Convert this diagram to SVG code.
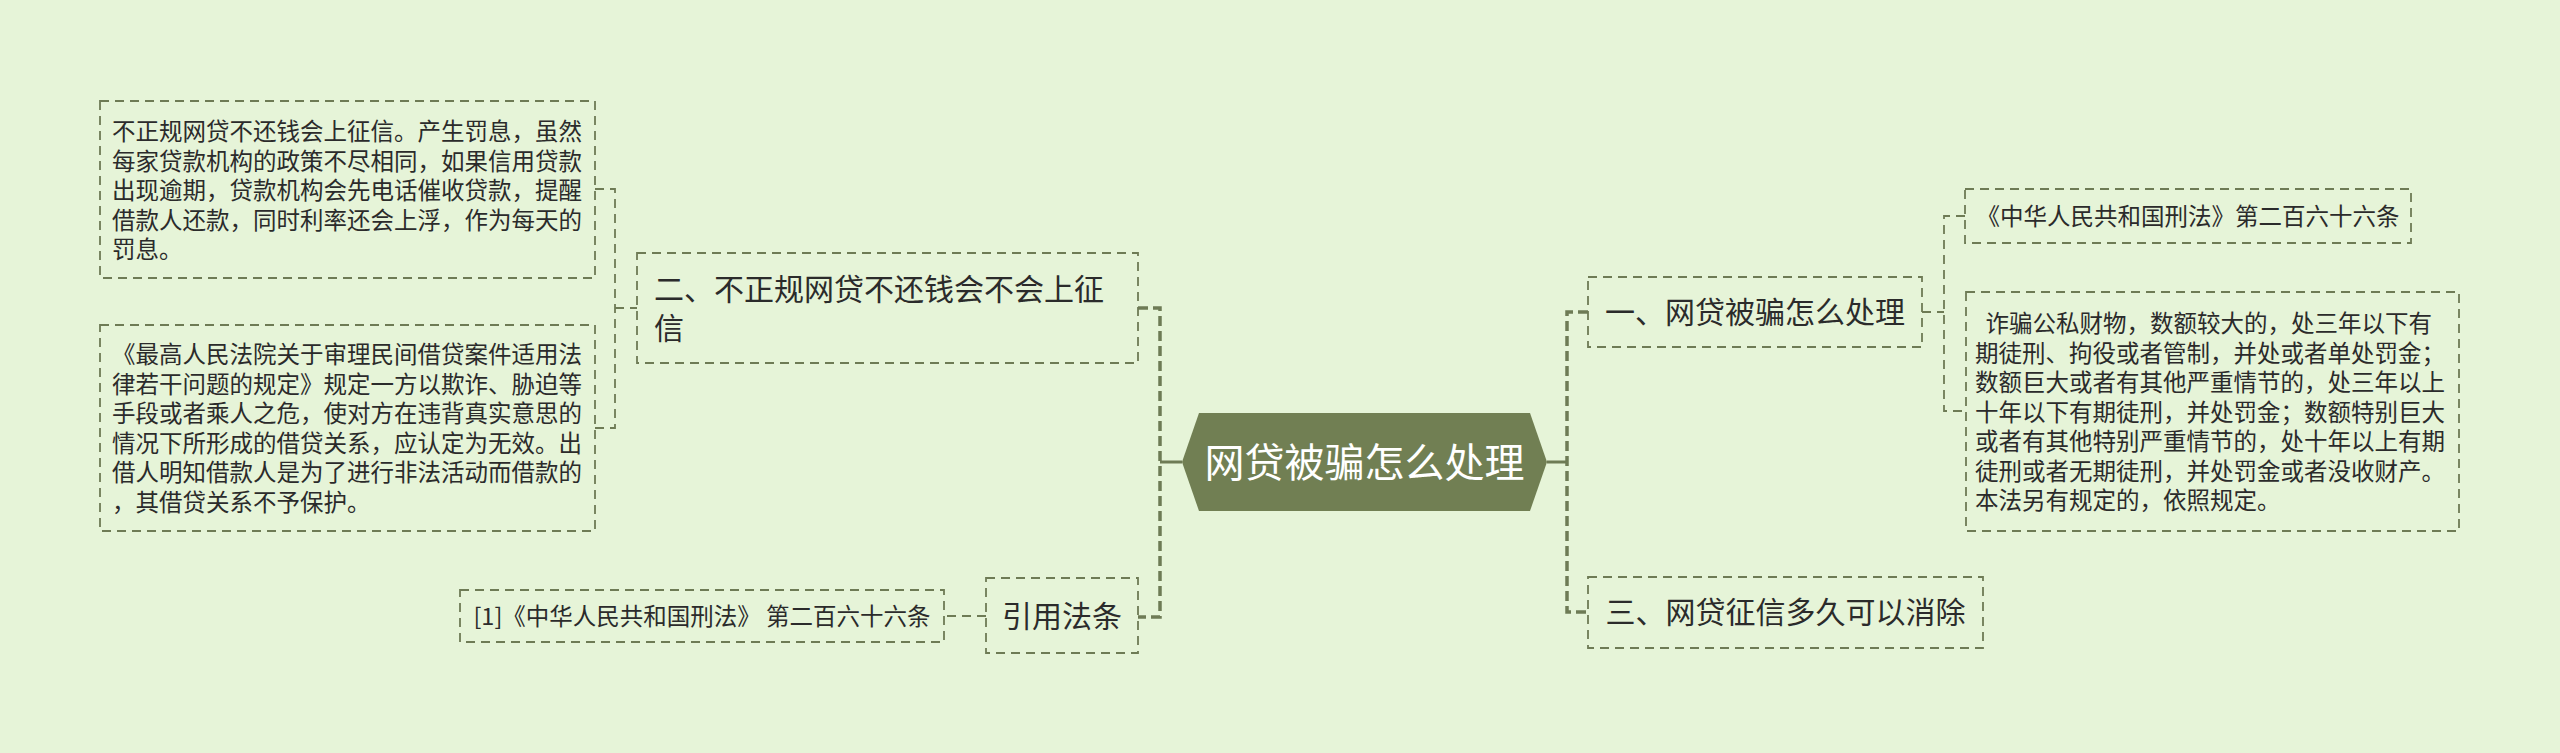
<svg xmlns="http://www.w3.org/2000/svg" width="2560" height="753" viewBox="0 0 2560 753">
<style>
.bg{fill:#e6f4d8}
.box{fill:none;stroke:#6e7b55;stroke-width:1.8;stroke-dasharray:9 6}
.t{font-family:"Noto Sans CJK SC","Noto Sans",sans-serif;fill:#2b2b2b}
.s{font-size:23.5px}
.m{font-size:30px}
.root{font-family:"Noto Sans CJK SC","Noto Sans",sans-serif;font-size:40px;fill:#ffffff}
.bus{fill:none;stroke:#6e7b55;stroke-width:3.5;stroke-dasharray:10 5}
.solid{fill:none;stroke:#6e7b55;stroke-width:3}
.thin{fill:none;stroke:#6e7b55;stroke-width:1.8;stroke-dasharray:9 6}
</style>
<rect class="bg" x="0" y="0" width="2560" height="753"/>
<g id="connectors">
<path class="solid" d="M1182 462 H1160"/>
<path class="bus" d="M1138 308 H1160 V617 H1138"/>
<path class="solid" d="M1547 462 H1567"/>
<path class="bus" d="M1588 312 H1567 V612 H1588"/>
<path class="thin" d="M595 189 H615 V428 H595"/>
<path class="thin" d="M615 308 H637"/>
<path class="thin" d="M986 616 H944"/>
<path class="thin" d="M1922 312 H1944"/>
<path class="thin" d="M1965 216 H1944 V411 H1966"/>
</g>
<g id="root">
<polygon points="1182,462 1199,413 1530,413 1547,462 1530,511 1199,511" fill="#717f53"/>
<text class="root" x="1364.5" y="476.5" text-anchor="middle">网贷被骗怎么处理</text>
</g>
<g id="n2">
<rect class="box" x="637" y="253" width="501" height="110"/>
<text class="t m" x="654" y="300">二、不正规网贷不还钱会不会上征</text>
<text class="t m" x="654" y="339">信</text>
</g>
<g id="n2a">
<rect class="box" x="100" y="101" width="495" height="177"/>
<text class="t s" x="112"><tspan x="112" y="140">不正规网贷不还钱会上征信。产生罚息，虽然</tspan><tspan x="112" y="169.5">每家贷款机构的政策不尽相同，如果信用贷款</tspan><tspan x="112" y="199">出现逾期，贷款机构会先电话催收贷款，提醒</tspan><tspan x="112" y="228.5">借款人还款，同时利率还会上浮，作为每天的</tspan><tspan x="112" y="258">罚息。</tspan></text>
</g>
<g id="n2b">
<rect class="box" x="100" y="325" width="495" height="206"/>
<text class="t s"><tspan x="112" y="363">《最高人民法院关于审理民间借贷案件适用法</tspan><tspan x="112" y="392.5">律若干问题的规定》规定一方以欺诈、胁迫等</tspan><tspan x="112" y="422">手段或者乘人之危，使对方在违背真实意思的</tspan><tspan x="112" y="451.5">情况下所形成的借贷关系，应认定为无效。出</tspan><tspan x="112" y="481">借人明知借款人是为了进行非法活动而借款的</tspan><tspan x="112" y="510.5">，其借贷关系不予保护。</tspan></text>
</g>
<g id="n4">
<rect class="box" x="986" y="578" width="152" height="75"/>
<text class="t m" x="1062" y="627" text-anchor="middle">引用法条</text>
</g>
<g id="n4a">
<rect class="box" x="460" y="590" width="484" height="52"/>
<text class="t s" x="702" y="625" text-anchor="middle">[1]《中华人民共和国刑法》 第二百六十六条</text>
</g>
<g id="n1">
<rect class="box" x="1588" y="277" width="334" height="70"/>
<text class="t m" x="1755" y="323" text-anchor="middle">一、网贷被骗怎么处理</text>
</g>
<g id="n1a">
<rect class="box" x="1965" y="189" width="446" height="54"/>
<text class="t s" x="2188" y="225" text-anchor="middle">《中华人民共和国刑法》第二百六十六条</text>
</g>
<g id="n1b">
<rect class="box" x="1966" y="292" width="493" height="239"/>
<text class="t s" xml:space="preserve"><tspan x="1975" y="332">  诈骗公私财物，数额较大的，处三年以下有</tspan><tspan x="1975" y="361.5">期徒刑、拘役或者管制，并处或者单处罚金；</tspan><tspan x="1975" y="391">数额巨大或者有其他严重情节的，处三年以上</tspan><tspan x="1975" y="420.5">十年以下有期徒刑，并处罚金；数额特别巨大</tspan><tspan x="1975" y="450">或者有其他特别严重情节的，处十年以上有期</tspan><tspan x="1975" y="479.5">徒刑或者无期徒刑，并处罚金或者没收财产。</tspan><tspan x="1975" y="509">本法另有规定的，依照规定。</tspan></text>
</g>
<g id="n3">
<rect class="box" x="1588" y="577" width="395" height="71"/>
<text class="t m" x="1785.5" y="623" text-anchor="middle">三、网贷征信多久可以消除</text>
</g>
</svg>
